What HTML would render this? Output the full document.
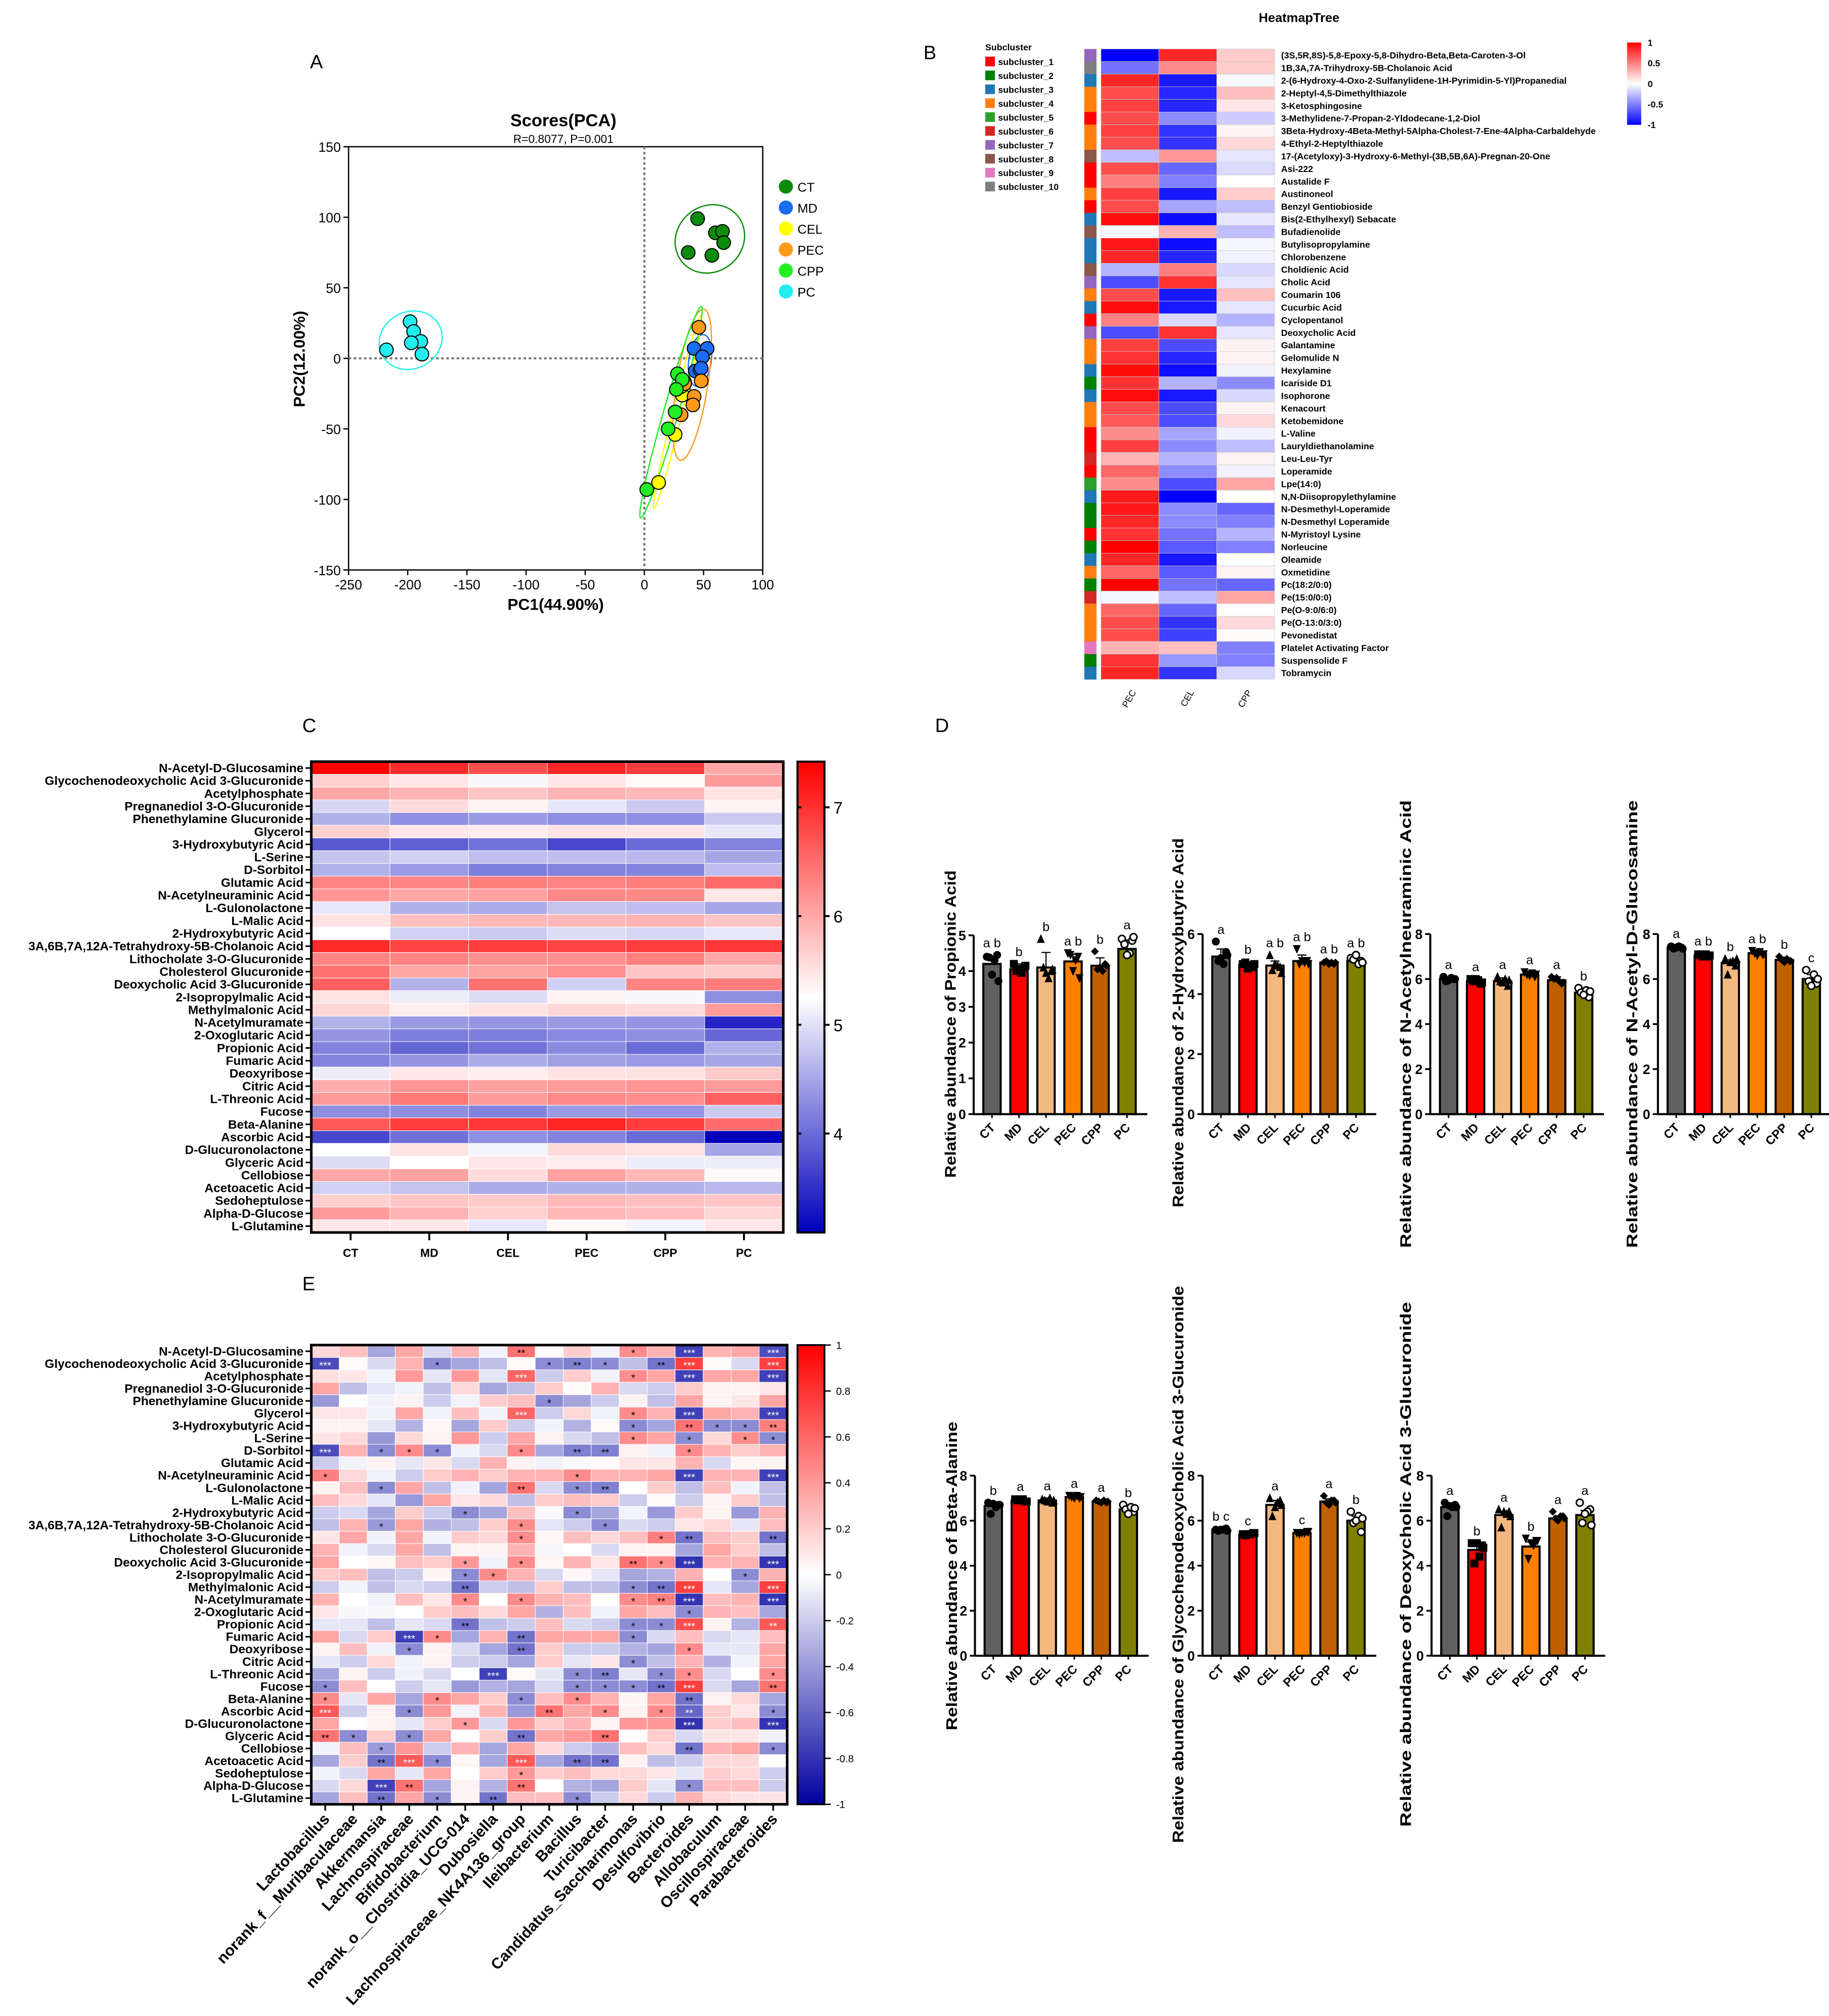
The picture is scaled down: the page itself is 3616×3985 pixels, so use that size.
<!DOCTYPE html>
<html><head><meta charset="utf-8"><title>Figure</title>
<style>
html,body{margin:0;padding:0;background:#fff;}
svg{display:block;font-family:"Liberation Sans",Arial,sans-serif;}
</style></head>
<body>
<svg id="fig" xmlns="http://www.w3.org/2000/svg" viewBox="0 0 1422 1567" width="3616" height="3985">
<rect x="0" y="0" width="1422" height="1567" fill="#fff"/>
<text x="241" y="53" font-size="15">A</text>
<text x="718" y="46" font-size="15">B</text>
<text x="235" y="569" font-size="15">C</text>
<text x="727" y="569" font-size="15">D</text>
<text x="235" y="1003" font-size="15">E</text>
<text x="438" y="98" font-size="13.5" font-weight="bold" text-anchor="middle">Scores(PCA)</text>
<text x="438" y="111" font-size="9" text-anchor="middle">R=0.8077, P=0.001</text>
<text x="432" y="474" font-size="12.5" font-weight="bold" text-anchor="middle">PC1(44.90%)</text>
<text transform="translate(237,279) rotate(-90)" font-size="12.5" font-weight="bold" text-anchor="middle">PC2(12.00%)</text>
<text x="1010" y="17" font-size="10" font-weight="bold" text-anchor="middle">HeatmapTree</text>
<text x="766" y="39" font-size="7" font-weight="bold">Subcluster</text>
</svg>
<script>
// ---------- DATA ----------
const pcaGroups=['CT','MD','CEL','PEC','CPP','PC'];
const pc1Values=[[45,60,66,67,37,57],[42,53,49,43,47,48],[33,32,26,12,31,34],[46,34,48,42,41,31],[28,32,27,26,20,2],[-198,-195,-189,-197,-188,-218]];
const pc2Values=[[99,89,90,82,75,73],[7,7,1,-9,-8,-7],[-23,-26,-54,-88,-20,-17],[22,-18,-16,-27,-33,-40],[-11,-15,-22,-38,-50,-93],[26,19,12,11,3,6]];
const pcaXTicks=[-250,-200,-150,-100,-50,0,50,100];
const pcaYTicks=[-150,-100,-50,0,50,100,150];

const bRowNames=['(3S,5R,8S)-5,8-Epoxy-5,8-Dihydro-Beta,Beta-Caroten-3-Ol','1B,3A,7A-Trihydroxy-5B-Cholanoic Acid','2-(6-Hydroxy-4-Oxo-2-Sulfanylidene-1H-Pyrimidin-5-Yl)Propanedial','2-Heptyl-4,5-Dimethylthiazole','3-Ketosphingosine','3-Methylidene-7-Propan-2-Yldodecane-1,2-Diol','3Beta-Hydroxy-4Beta-Methyl-5Alpha-Cholest-7-Ene-4Alpha-Carbaldehyde','4-Ethyl-2-Heptylthiazole','17-(Acetyloxy)-3-Hydroxy-6-Methyl-(3B,5B,6A)-Pregnan-20-One','Asi-222','Austalide F','Austinoneol','Benzyl Gentiobioside','Bis(2-Ethylhexyl) Sebacate','Bufadienolide','Butylisopropylamine','Chlorobenzene','Choldienic Acid','Cholic Acid','Coumarin 106','Cucurbic Acid','Cyclopentanol','Deoxycholic Acid','Galantamine','Gelomulide N','Hexylamine','Icariside D1','Isophorone','Kenacourt','Ketobemidone','L-Valine','Lauryldiethanolamine','Leu-Leu-Tyr','Loperamide','Lpe(14:0)','N,N-Diisopropylethylamine','N-Desmethyl-Loperamide','N-Desmethyl Loperamide','N-Myristoyl Lysine','Norleucine','Oleamide','Oxmetidine','Pc(18:2/0:0)','Pe(15:0/0:0)','Pe(O-9:0/6:0)','Pe(O-13:0/3:0)','Pevonedistat','Platelet Activating Factor','Suspensolide F','Tobramycin'];
const bCols=['PEC','CEL','CPP'];
const bPEC=[-1,-0.55,0.85,0.7,0.75,0.7,0.75,0.7,-0.25,0.7,0.5,0.75,0.7,0.95,-0.03,0.9,0.85,-0.3,-0.7,0.7,0.95,0.5,-0.7,0.75,0.8,0.95,0.8,0.95,0.7,0.65,0.45,0.75,0.3,0.6,0.45,0.9,0.9,0.85,0.8,1.0,0.85,0.6,1.0,-0.03,0.6,0.7,0.7,0.3,0.8,0.85];
const bCEL=[0.85,0.45,-0.9,-0.85,-0.85,-0.45,-0.8,-0.8,0.4,-0.6,-0.5,-0.9,-0.35,-0.95,0.3,-0.95,-0.85,0.5,0.8,-0.9,-0.9,-0.15,0.8,-0.7,-0.85,-0.95,-0.3,-0.9,-0.7,-0.7,-0.35,-0.45,-0.3,-0.45,-0.7,-1,-0.45,-0.45,-0.55,-0.65,-0.9,-0.65,-0.55,-0.25,-0.6,-0.8,-0.75,0.25,-0.4,-0.8];
const bCPP=[0.2,0.2,-0.03,0.25,0.1,-0.2,0.05,0.15,-0.1,-0.15,0.0,0.2,-0.25,-0.1,-0.25,-0.03,-0.05,-0.15,-0.1,0.25,-0.1,-0.3,-0.1,0.05,0.05,-0.05,-0.45,-0.15,0.05,0.15,-0.05,-0.25,0.05,-0.05,0.35,0.0,-0.6,-0.5,-0.3,-0.5,0.0,0.05,-0.6,0.35,0.0,0.15,0.02,-0.5,-0.5,-0.15];
const bCluster=[7,10,3,4,4,1,4,4,8,1,1,4,1,3,8,3,3,8,7,4,3,1,7,4,4,3,2,3,4,4,1,1,6,1,5,3,2,2,1,2,3,4,2,6,4,4,4,9,2,3];
const bClusterNames=['subcluster_1','subcluster_2','subcluster_3','subcluster_4','subcluster_5','subcluster_6','subcluster_7','subcluster_8','subcluster_9','subcluster_10'];
const bTicks=[1,0.5,0,-0.5,-1];

const cGroups=['CT','MD','CEL','PEC','CPP','PC'];
const metNames=['N-Acetyl-D-Glucosamine','Glycochenodeoxycholic Acid 3-Glucuronide','Acetylphosphate','Pregnanediol 3-O-Glucuronide','Phenethylamine Glucuronide','Glycerol','3-Hydroxybutyric Acid','L-Serine','D-Sorbitol','Glutamic Acid','N-Acetylneuraminic Acid','L-Gulonolactone','L-Malic Acid','2-Hydroxybutyric Acid','3A,6B,7A,12A-Tetrahydroxy-5B-Cholanoic Acid','Lithocholate 3-O-Glucuronide','Cholesterol Glucuronide','Deoxycholic Acid 3-Glucuronide','2-Isopropylmalic Acid','Methylmalonic Acid','N-Acetylmuramate','2-Oxoglutaric Acid','Propionic Acid','Fumaric Acid','Deoxyribose','Citric Acid','L-Threonic Acid','Fucose','Beta-Alanine','Ascorbic Acid','D-Glucuronolactone','Glyceric Acid','Cellobiose','Acetoacetic Acid','Sedoheptulose','Alpha-D-Glucose','L-Glutamine'];
const cValues=[
[7.4,7.05,6.75,7.1,6.9,6.0],[5.65,5.45,5.2,5.45,5.3,6.1],[6.0,5.9,5.75,5.9,5.85,5.5],[4.9,5.55,5.35,5.05,4.8,5.35],
[4.6,4.3,4.4,4.3,4.3,4.8],[5.65,5.45,5.4,5.5,5.45,5.05],[3.85,3.9,4.05,3.7,4.0,4.2],[4.75,4.85,4.7,4.7,4.65,4.5],
[4.6,4.4,4.15,4.2,4.2,4.7],[6.3,6.3,6.35,6.3,6.35,6.5],[6.15,6.0,6.05,6.25,6.25,5.45],[5.05,4.6,4.55,4.75,4.7,4.5],
[5.5,5.8,5.85,5.85,5.9,5.75],[5.25,4.85,4.8,4.95,4.9,5.05],[7.05,6.85,6.9,6.85,6.9,6.95],[6.3,6.3,6.2,6.2,6.35,6.0],
[6.45,6.0,6.05,6.2,5.75,5.7],[6.6,4.6,6.45,4.85,6.3,6.35],[5.5,5.1,4.95,5.35,5.2,4.3],[5.6,5.4,5.5,5.6,5.55,6.1],
[4.6,4.4,4.35,4.4,4.35,3.4],[4.35,4.15,4.15,4.25,4.3,3.95],[4.2,3.95,4.05,4.25,4.0,4.6],[4.2,4.35,4.55,4.45,4.4,4.5],
[5.1,5.45,5.4,5.5,5.5,5.7],[5.95,6.15,6.05,6.1,6.15,6.1],[6.1,6.4,6.1,6.25,6.2,6.6],[4.3,4.3,4.2,4.4,4.35,4.8],
[6.65,6.9,6.95,7.1,6.9,6.5],[3.7,4.05,4.3,4.2,4.0,3.1],[5.25,5.5,5.15,5.55,5.5,4.5],[4.95,5.25,5.45,5.4,5.1,5.1],
[6.0,6.05,5.55,6.05,5.85,5.3],[4.85,4.75,4.55,4.6,4.6,4.65],[5.65,5.75,5.7,5.85,5.8,5.75],[6.1,5.9,5.65,5.85,5.8,5.6],
[5.45,5.45,5.05,5.3,5.15,5.45]];
const cTicks=[7,6,5,4];

const eTaxa=['Lactobacillus','norank_f__Muribaculaceae','Akkermansia','Lachnospiraceae','Bifidobacterium','norank_o__Clostridia_UCG-014','Dubosiella','Lachnospiraceae_NK4A136_group','Ileibacterium','Bacillus','Turicibacter','Candidatus_Saccharimonas','Desulfovibrio','Bacteroides','Allobaculum','Oscillospiraceae','Parabacteroides'];
const eValues=[
[0.15,0.25,-0.35,0.35,-0.15,0.3,-0.05,0.55,0.02,0.2,-0.05,0.45,0.3,-0.75,0.3,0.35,-0.7],
[-0.7,0.02,-0.15,0.3,-0.45,-0.35,-0.25,0.02,-0.45,-0.5,-0.45,-0.25,-0.55,0.75,0.02,-0.15,0.75],
[0.12,0.1,-0.05,0.4,-0.1,0.4,-0.1,0.6,-0.2,0.2,-0.05,0.45,0.35,-0.75,0.35,0.35,-0.75],
[0.35,-0.25,-0.1,-0.05,-0.25,0.15,-0.35,-0.25,0.2,0.02,0.3,-0.15,-0.2,0.2,0.05,0.05,0.1],
[-0.4,0,-0.05,0.05,-0.2,-0.05,0.2,0.25,-0.45,-0.35,-0.2,0.05,-0.25,0.35,0.05,0.1,0.35],
[0.1,0.1,-0.05,0.35,-0.05,0.25,-0.05,0.6,-0.2,0.15,-0.05,0.45,0.3,-0.75,0.35,0.3,-0.75],
[0.05,0.05,-0.1,-0.3,0.03,-0.35,0.2,-0.2,-0.05,-0.3,0.02,-0.45,-0.35,0.55,-0.45,-0.45,0.5],
[0.1,0.15,-0.4,0.15,0.05,0.4,-0.2,0.35,0.05,-0.15,-0.25,0.45,0.35,-0.45,0.15,0.45,-0.45],
[-0.7,0.3,-0.45,0.45,-0.45,-0.05,-0.15,0.45,-0.35,-0.5,-0.5,0.05,-0.05,0.45,0.3,0.2,0.3],
[-0.2,-0.05,0.05,-0.1,0.1,-0.15,0.3,0.05,-0.05,-0.02,0.02,0.1,0.1,0.3,-0.15,0.03,0.05],
[0.5,0.15,-0.05,-0.2,0.2,0.3,0.2,0.3,0.3,0.45,0.3,0.3,0.35,-0.75,0.3,0.3,-0.75],
[0.05,0.25,-0.45,0.35,-0.25,-0.05,-0.35,0.55,-0.15,-0.45,-0.5,0.0,0.2,-0.25,0.25,-0.05,-0.25],
[0.25,0.15,-0.1,-0.4,0.35,0.1,0.15,-0.25,0.2,0.25,0.2,-0.2,0.02,-0.2,0.05,0.2,-0.25],
[-0.2,-0.15,-0.35,0.2,-0.2,-0.45,-0.35,0.25,-0.02,-0.45,-0.35,-0.05,-0.4,0.2,0.05,-0.4,0.3],
[-0.25,0.3,-0.4,0.35,-0.3,-0.25,0.2,0.45,-0.1,-0.2,-0.45,-0.15,-0.2,0.1,0.15,-0.1,0.25],
[0.1,0.35,-0.05,0.35,-0.05,0.2,0.15,0.45,0.03,0.25,0.15,0.25,0.5,-0.55,0.25,0.2,-0.55],
[0.3,-0.05,-0.15,0.35,-0.25,0.05,0.05,0.3,-0.03,0.0,-0.15,0.05,0.05,-0.35,0.35,0.2,-0.25],
[0.35,0.0,0.03,0.25,0.2,0.4,-0.05,0.45,0.03,0.3,0.1,0.55,0.45,-0.8,0.3,0.3,-0.8],
[0.2,0.25,-0.25,-0.2,0.03,-0.45,0.45,0.3,-0.15,0.03,-0.1,-0.35,-0.3,0.3,0.0,-0.45,0.3],
[-0.2,-0.05,-0.25,-0.15,-0.2,-0.55,-0.2,-0.25,0.2,-0.25,-0.25,-0.45,-0.55,0.75,-0.1,-0.35,0.75],
[0.3,0.0,-0.05,0.25,0.1,0.45,0.0,0.45,0.3,0.25,0.0,0.45,0.5,-0.8,0.25,0.3,-0.8],
[0.1,-0.03,-0.03,0.0,0.2,0.25,0.15,0.35,-0.3,0.25,-0.05,0.35,0.25,-0.45,0.3,0.25,-0.35],
[-0.1,-0.1,-0.25,-0.1,-0.15,-0.55,-0.25,-0.2,0.25,-0.15,-0.2,-0.45,-0.45,0.7,0.05,-0.3,0.65],
[0.35,-0.15,0.2,-0.75,0.45,-0.35,0.3,-0.55,0.35,0.35,0.35,-0.45,-0.15,0.25,-0.15,-0.1,0.25],
[0.05,0.25,-0.05,-0.45,0.05,-0.15,-0.35,-0.55,0.2,-0.2,-0.2,-0.3,-0.35,0.45,-0.1,-0.1,0.35],
[-0.1,-0.2,0.15,-0.05,0.05,-0.2,-0.2,-0.35,0.2,-0.1,0.1,-0.45,-0.25,0.3,-0.3,-0.05,0.35],
[-0.35,0.05,-0.2,-0.05,-0.15,0.0,-0.75,0.02,-0.1,-0.45,-0.5,-0.1,-0.45,0.45,-0.15,0.0,0.45],
[-0.45,0.25,0.0,-0.2,-0.1,-0.4,-0.3,-0.35,-0.15,-0.45,-0.45,-0.45,-0.55,0.75,-0.15,-0.35,0.55],
[0.45,-0.1,0.35,-0.35,0.45,0.35,0.2,-0.45,0.25,0.45,0.3,0.03,0.35,-0.55,0.05,0.15,-0.35],
[0.65,-0.2,0.05,-0.45,0.4,-0.05,0.3,-0.4,0.55,0.35,0.45,0.05,0.45,-0.6,0.2,0.1,-0.45],
[0.35,0.0,0.05,-0.1,0.2,0.4,-0.15,0.4,0.2,0.3,0.05,0.4,0.4,-0.8,0.2,0.25,-0.8],
[0.55,-0.45,0.2,-0.45,0.35,0.0,0.2,-0.55,0.35,0.4,0.55,0.0,0.2,-0.15,0.1,0.1,-0.05],
[-0.05,0.25,-0.4,0.4,-0.2,0.3,-0.35,0.35,0.15,-0.2,-0.3,0.25,0.15,-0.55,0.3,0.35,-0.45],
[-0.35,0.2,-0.55,0.65,-0.45,0.03,-0.35,0.65,-0.35,-0.55,-0.55,0.05,-0.25,-0.2,0.15,0.15,0.0],
[-0.05,-0.15,0.35,-0.1,0.35,0.0,0.2,0.4,0.2,0.25,0.15,0.15,0.1,-0.1,0.2,0.15,-0.2],
[-0.15,0.15,-0.75,0.55,-0.35,0.05,-0.3,0.55,0.0,-0.3,-0.35,0.2,-0.1,-0.45,0.25,0.25,-0.2],
[-0.35,0.25,-0.55,0.35,-0.45,0.05,-0.55,0.25,0.25,-0.45,-0.2,0.15,-0.2,0.3,0.15,0.1,0.1]];
const eStars=['.......2...1.3..3','3...1...121.23..3','.......3...1.3..3','.................','........1........','.......3...1.3..3','...........1.2112','...........1.1.11','3.111..1.22..1...','.................','1........1...3..3','..1....2.12......','.................','.....1...1.......','..1....1..1......','.......1....12..2','.................','.....1.1...213..3','.....11........1.','.....2.....123..3','.....1.1...123..3','.............1...','.....2.....113..2','...31..2...1.....','...1...2.....1...','...........1.....','......3..12.11..1','1........11123..2','1...1..1.1...2...','3..1....2.1.12..1','.....1.......3..3','21.1...2..2......','..1..........2..1','..231..3.22......','.......1.........','..32...2.....1...','..2.1.2..1.......'];
const eTicks=[1,0.8,0.6,0.4,0.2,0,-0.2,-0.4,-0.6,-0.8,-1];

const barGroups=['CT','MD','CEL','PEC','CPP','PC'];
const meansPropionic=[4.2,4.05,4.1,4.27,4.15,4.62];
const errPropionic=[0.2,0.15,0.42,0.2,0.22,0.25];
const lettersPropionic=['a b','b','b','a b','b','a'];
const ptsPropionic=[[4.4,4.45,4.38,4.3,3.9,3.72],[4.2,4.1,4.0,3.95,4.05,4.15],[4.9,4.0,4.1,3.8,3.95,4.05],[4.5,4.4,4.45,4.3,4.0,3.8],[4.55,4.2,4.05,4.0,4.1,4.15],[4.9,4.85,4.75,4.5,4.45,4.95]];
const meansHydroxybutyric=[5.25,4.98,4.95,5.1,5.05,5.1];
const errHydroxybutyric=[0.25,0.1,0.15,0.2,0.05,0.1];
const lettersHydroxybutyric=['a','b','a b','a b','a b','a b'];
const ptsHydroxybutyric=[[5.75,5.4,5.1,5.0,5.2,5.3],[5.0,4.9,5.05,4.95,4.85,5.0],[5.3,4.9,4.8,4.95,5.0,4.7],[5.5,5.1,5.0,5.05,5.1,5.0],[5.05,5.0,5.1,5.05,5.0,5.05],[5.2,5.1,5.15,5.0,5.3,5.05]];
const meansNeuraminic=[6.0,5.9,5.9,6.2,5.95,5.4];
const errNeuraminic=[0.1,0.1,0.15,0.12,0.15,0.15];
const lettersNeuraminic=['a','a','a','a','a','b'];
const ptsNeuraminic=[[6.1,6.0,5.9,6.05,5.95,6.0],[6.0,5.8,5.9,5.95,6.0,5.85],[6.1,5.7,5.9,6.0,5.85,5.95],[6.3,6.1,6.2,6.25,6.15,6.2],[6.1,5.8,6.0,5.9,6.05,5.85],[5.6,5.2,5.4,5.5,5.3,5.45]];
const meansGlucosamine=[7.4,7.05,6.7,7.15,6.85,6.0];
const errGlucosamine=[0.08,0.1,0.15,0.1,0.12,0.2];
const lettersGlucosamine=['a','a b','b','a b','b','c'];
const ptsGlucosamine=[[7.45,7.4,7.35,7.45,7.4,7.35],[7.1,7.0,7.05,7.1,7.0,7.05],[6.9,6.6,6.2,6.8,6.75,6.9],[7.25,7.1,7.15,7.2,7.05,7.1],[7.0,6.8,6.85,6.9,6.75,6.8],[6.4,5.8,5.9,6.2,5.7,6.0]];
const meansBetaAlanine=[6.65,6.9,6.9,7.05,6.85,6.5];
const errBetaAlanine=[0.12,0.08,0.1,0.06,0.08,0.1];
const lettersBetaAlanine=['b','a','a','a','a','b'];
const ptsBetaAlanine=[[6.8,6.7,6.3,6.6,6.75,6.7],[6.95,6.85,6.9,6.95,6.9,6.85],[6.95,6.8,6.9,7.0,6.85,6.9],[7.1,7.0,7.05,7.1,7.0,7.05],[6.9,6.8,6.85,6.9,6.8,6.85],[6.7,6.4,6.5,6.6,6.3,6.55]];
const meansGlycocheno=[5.6,5.4,6.7,5.45,6.85,6.0];
const errGlycocheno=[0.05,0.05,0.2,0.05,0.12,0.2];
const lettersGlycocheno=['b c','c','a','c','a','b'];
const ptsGlycocheno=[[5.6,5.65,5.55,5.6,5.6,5.55],[5.4,5.45,5.35,5.4,5.4,5.45],[7.0,6.9,6.2,6.8,6.6,6.7],[5.45,5.5,5.4,5.45,5.45,5.5],[7.1,6.9,6.8,6.9,6.7,6.8],[6.4,5.5,5.9,6.2,6.0,6.1]];
const meansDeoxycholic=[6.6,4.7,6.25,4.85,6.1,6.25];
const errDeoxycholic=[0.1,0.2,0.15,0.2,0.1,0.2];
const lettersDeoxycholic=['a','b','a','b','a','a'];
const ptsDeoxycholic=[[6.8,6.7,6.2,6.6,6.65,6.6],[5.0,4.9,4.1,4.4,5.0,4.8],[6.5,6.4,5.7,6.3,6.4,6.2],[5.2,5.1,4.3,4.9,5.0,5.1],[6.4,6.2,6.1,6.2,6.0,6.1],[6.8,6.5,5.9,6.4,6.3,5.8]];

// ---------- HELPERS ----------
const NS='http://www.w3.org/2000/svg';
const svg=document.getElementById('fig');
function mk(tag,attrs,parent){const e=document.createElementNS(NS,tag);for(const k in attrs)e.setAttribute(k,attrs[k]);(parent||svg).appendChild(e);return e;}
function tx(str,attrs,parent){const e=mk('text',attrs,parent);e.textContent=str;return e;}
function line(x1,y1,x2,y2,w,parent,col){return mk('line',{x1:x1,y1:y1,x2:x2,y2:y2,stroke:col||'#000','stroke-width':w},parent);}

// ---------- PANEL A: PCA ----------
const gA=mk('g',{});


const ax0=271,ax1=593,ay0=114,ay1=443;
const sx=v=>ax0+(v+250)*(ax1-ax0)/350;
const sy=v=>ay0+(150-v)*(ay1-ay0)/300;
const pcaColors=['#0a8c0a','#1a6cf0','#ffff00','#ff9a1a','#22ee22','#22eeee'];
let e;
e=mk('rect',{x:ax0,y:ay0,width:ax1-ax0,height:ay1-ay0,fill:'none',stroke:'#000','stroke-width':1},gA);


e=line(sx(0),ay0,sx(0),ay1,1.6,gA,'#777');e.setAttribute('stroke-dasharray','2,2');


e=line(ax0,sy(0),ax1,sy(0),1.6,gA,'#777');e.setAttribute('stroke-dasharray','2,2');


pcaXTicks.forEach(t=>{
  e=line(sx(t),ay1,sx(t),ay1+4,1,gA);
  
  
  e=tx(String(t),{x:sx(t),y:ay1+15,'font-size':10.5,'text-anchor':'middle'},gA);
  
  
});
pcaYTicks.forEach(t=>{
  e=line(ax0-4,sy(t),ax0,sy(t),1,gA);
  
  
  e=tx(String(t),{x:ax0-6,y:sy(t)+4,'font-size':10.5,'text-anchor':'end'},gA);
  
  
});
pcaGroups.forEach((g,gi)=>{
  const xs=pc1Values[gi].map(sx),ys=pc2Values[gi].map(sy),n=xs.length;
  const mx=xs.reduce((a,b)=>a+b)/n,my=ys.reduce((a,b)=>a+b)/n;
  let sxx=0,syy=0,sxy=0;
  for(let i=0;i<n;i++){sxx+=(xs[i]-mx)**2;syy+=(ys[i]-my)**2;sxy+=(xs[i]-mx)*(ys[i]-my);}
  sxx/=n-1;syy/=n-1;sxy/=n-1;
  const tr=(sxx+syy)/2,dt=Math.sqrt(((sxx-syy)/2)**2+sxy*sxy);
  const l1=tr+dt,l2=Math.max(tr-dt,1);
  const ang=Math.atan2(l1-sxx,sxy||1e-9)*180/Math.PI;
  const k=2.45;
  e=mk('ellipse',{cx:mx,cy:my,rx:k*Math.sqrt(l1),ry:k*Math.sqrt(l2),transform:'rotate('+ang+' '+mx+' '+my+')',fill:'none',stroke:pcaColors[gi],'stroke-width':1},gA);
  
  
});
pcaGroups.forEach((g,gi)=>{
  pc1Values[gi].forEach((v,i)=>{
    e=mk('circle',{cx:sx(v),cy:sy(pc2Values[gi][i]),r:5.3,fill:pcaColors[gi],stroke:'#000','stroke-width':0.8},gA);
    
    
  });
  e=mk('circle',{cx:611,cy:145+gi*16.3,r:5.5,fill:pcaColors[gi]},gA);
  
  
  e=tx(g,{x:620,y:149+gi*16.3,'font-size':10},gA);
  
  
});

// ---------- PANEL B: HeatmapTree ----------
const gB=mk('g',{});


const clusterColors=['#ff0000','#008000','#1f77b4','#ff7f0e','#2ca02c','#d62728','#9467bd','#8c564b','#e377c2','#7f7f7f'];
function colB(v){v=Math.max(-1,Math.min(1,v));if(v>=0){const c=Math.round(255*(1-v));return 'rgb(255,'+c+','+c+')';}const c=Math.round(255*(1+v));return 'rgb('+c+','+c+',255)';}
const bx0=856,bcw=45,by0=38,brh=(528-38)/50;
bRowNames.forEach((nm,i)=>{
  const y=by0+i*brh;
  e=mk('rect',{x:843,y:y,width:9.5,height:brh+0.2,fill:clusterColors[bCluster[i]-1]},gB);
  
  
  [bPEC,bCEL,bCPP].forEach((arr,j)=>{
    e=mk('rect',{x:bx0+j*bcw,y:y,width:bcw,height:brh,fill:colB(arr[i]),stroke:'#c8c8c8','stroke-width':0.3},gB);
    
    
  });
  e=tx(nm,{x:996,y:y+brh/2+2.5,'font-size':7,'font-weight':'bold'},gB);
  
  
});
bCols.forEach((c,j)=>{
  e=tx(c,{transform:'translate('+(bx0+j*bcw+bcw/2+5)+',538) rotate(-60)','font-size':7,'text-anchor':'end'},gB);
  
  
});
bClusterNames.forEach((c,i)=>{
  e=mk('rect',{x:766,y:44+i*10.8,width:7.5,height:7.5,fill:clusterColors[i]},gB);
  
  
  e=tx(c,{x:776,y:50.5+i*10.8,'font-size':7,'font-weight':'bold'},gB);
  
  
});
const defs=mk('defs',{});
const grB=mk('linearGradient',{id:'gradB',x1:0,y1:0,x2:0,y2:1},defs);
[1,0.5,0,-0.5,-1].forEach((v,i)=>mk('stop',{offset:(i*25)+'%','stop-color':colB(v)},grB));
e=mk('rect',{x:1265,y:33,width:11,height:64,fill:'url(#gradB)'},gB);


bTicks.forEach(t=>{
  const y=33+(1-t)/2*64;
  e=tx(String(t),{x:1281,y:y+2.5,'font-size':7,'font-weight':'bold'},gB);
  
  
});

// ---------- PANEL C ----------
const gC=mk('g',{});


const cMin=3.09,cMax=7.42,cMid=5.25;
function colC(v){if(v>=cMid){const f=Math.min(1,(v-cMid)/(cMax-cMid));const c=Math.round(255*(1-f));return 'rgb(255,'+c+','+c+')';}const f=Math.min(1,(cMid-v)/(cMid-cMin));const c=Math.round(255*(1-f));return 'rgb('+c+','+c+','+Math.round(255-68*f)+')';}
const cx0=242,cx1=609,cy0=592,cy1=958,ccw=(cx1-cx0)/6,crh=(cy1-cy0)/37;
metNames.forEach((nm,i)=>{
  const y=cy0+i*crh;
  cValues[i].forEach((v,j)=>{
    e=mk('rect',{x:cx0+j*ccw,y:y,width:ccw,height:crh,fill:colC(v),stroke:'#fff','stroke-width':0.4},gC);
    
    
  });
  e=line(237.5,y+crh/2,242,y+crh/2,1.2,gC);
  
  
  e=tx(nm,{x:236,y:y+crh/2+3.3,'font-size':9.6,'font-weight':'bold','text-anchor':'end'},gC);
  
  
});
e=mk('rect',{x:cx0,y:cy0,width:cx1-cx0,height:cy1-cy0,fill:'none',stroke:'#000','stroke-width':2},gC);


cGroups.forEach((g,j)=>{
  const x=cx0+j*ccw+ccw/2;
  e=line(x,cy1,x,cy1+6,1.5,gC);
  
  
  e=tx(g,{x:x,y:977,'font-size':9,'font-weight':'bold','text-anchor':'middle'},gC);
  
  
});
const grC=mk('linearGradient',{id:'gradC',x1:0,y1:0,x2:0,y2:1},defs);
for(let i=0;i<=10;i++){const v=cMax-(cMax-cMin)*i/10;mk('stop',{offset:(i*10)+'%','stop-color':colC(v)},grC);}
e=mk('rect',{x:620,y:cy0,width:21,height:cy1-cy0,fill:'url(#gradC)',stroke:'#000','stroke-width':1.6},gC);


cTicks.forEach(t=>{
  const y=cy0+(cMax-t)/(cMax-cMin)*(cy1-cy0);
  e=line(620,y,623,y,1.5,gC);
  
  
  e=line(641,y,645,y,1.5,gC);
  
  
  e=tx(String(t),{x:648,y:y+5,'font-size':13},gC);
  
  
});

// ---------- PANEL E ----------
const gE=mk('g',{});


function colE(v){v=Math.max(-1,Math.min(1,v));if(v>=0){const c=Math.round(255*(1-v));return 'rgb(255,'+c+','+c+')';}const f=-v;const c=Math.round(255*(1-f));return 'rgb('+c+','+c+','+Math.round(255-95*f)+')';}
const ex0=242,ex1=612,ey0=1045.5,ey1=1402.5,ecw=(ex1-ex0)/17,erh=(ey1-ey0)/37;
metNames.forEach((nm,i)=>{
  const y=ey0+i*erh;
  eValues[i].forEach((v,j)=>{
    e=mk('rect',{x:ex0+j*ecw,y:y,width:ecw,height:erh,fill:colE(v),stroke:'#fff','stroke-width':0.4},gE);
    
    
    const s=eStars[i][j];
    if(s!=='.'){
      e=tx('*'.repeat(+s),{x:ex0+j*ecw+ecw/2,y:y+erh/2+4.2,'font-size':8,'text-anchor':'middle',fill:Math.abs(v)>=0.6?'#fff':'#000'},gE);
      
      
    }
  });
  e=line(237.5,y+erh/2,242,y+erh/2,1.2,gE);
  
  
  e=tx(nm,{x:236,y:y+erh/2+3.3,'font-size':9.6,'font-weight':'bold','text-anchor':'end'},gE);
  
  
});
e=mk('rect',{x:ex0,y:ey0,width:ex1-ex0,height:ey1-ey0,fill:'none',stroke:'#000','stroke-width':2},gE);


eTaxa.forEach((t,j)=>{
  const x=ex0+j*ecw+ecw/2;
  e=line(x,ey1,x,ey1+5,1.3,gE);
  
  
  e=tx(t,{transform:'translate('+(x+4)+','+(ey1+12)+') rotate(-47)','font-size':12,'font-weight':'bold','text-anchor':'end'},gE);
  
  
});
const grE=mk('linearGradient',{id:'gradE',x1:0,y1:0,x2:0,y2:1},defs);
for(let i=0;i<=10;i++){const v=1-i*0.2;mk('stop',{offset:(i*10)+'%','stop-color':colE(v)},grE);}
e=mk('rect',{x:620,y:ey0,width:21,height:ey1-ey0,fill:'url(#gradE)',stroke:'#000','stroke-width':1.4},gE);


eTicks.forEach(t=>{
  const y=ey0+(1-t)/2*(ey1-ey0);
  e=line(641,y,646,y,1,gE);
  
  
  e=tx(t===0?'0':String(t),{x:650,y:y+3,'font-size':8},gE);
  
  
});

// ---------- PANEL D: bar charts ----------
const barColors=['#606060','#ff0000','#f2b880','#ff8000','#c06000','#808000'];
const charts=[
 {id:'propionic',title:'Relative abundance of Propionic Acid',ax:757,top:727,base:866,ymax:5,step:1,lab:[739,796,239],m:meansPropionic,er:errPropionic,l:lettersPropionic,p:ptsPropionic},
 {id:'hydroxybutyric',title:'Relative abundance of 2-Hydroxybutyric Acid',ax:935,top:726,base:866,ymax:6,step:2,lab:[916,795,287],m:meansHydroxybutyric,er:errHydroxybutyric,l:lettersHydroxybutyric,p:ptsHydroxybutyric},
 {id:'neuraminic',title:'Relative abundance of N-Acetylneuraminic Acid',ax:1112,top:726,base:866,ymax:8,step:2,lab:[1093,796,348],m:meansNeuraminic,er:errNeuraminic,l:lettersNeuraminic,p:ptsNeuraminic},
 {id:'glucosamine',title:'Relative abundance of N-Acetyl-D-Glucosamine',ax:1289,top:726,base:866,ymax:8,step:2,lab:[1269,796,348],m:meansGlucosamine,er:errGlucosamine,l:lettersGlucosamine,p:ptsGlucosamine},
 {id:'beta-alanine',title:'Relative abundance of Beta-Alanine',ax:758,top:1147,base:1287,ymax:8,step:2,lab:[740,1225,240],m:meansBetaAlanine,er:errBetaAlanine,l:lettersBetaAlanine,p:ptsBetaAlanine},
 {id:'glycocheno',title:'Relative abundance of Glycochenodeoxycholic Acid 3-Glucuronide',ax:935,top:1147,base:1287,ymax:8,step:2,lab:[916,1216,433],m:meansGlycocheno,er:errGlycocheno,l:lettersGlycocheno,p:ptsGlycocheno},
 {id:'deoxycholic',title:'Relative abundance of Deoxycholic Acid 3-Glucuronide',ax:1113,top:1147,base:1287,ymax:8,step:2,lab:[1093,1216,408],m:meansDeoxycholic,er:errDeoxycholic,l:lettersDeoxycholic,p:ptsDeoxycholic}
];
const jit=[-4,4,-2,2,0,5];
function marker(kind,x,y,parent){
  const r=3.1;let m;
  if(kind===0) m=mk('circle',{cx:x,cy:y,r:r,fill:'#000'},parent);
  else if(kind===1) m=mk('rect',{x:x-r,y:y-r,width:2*r,height:2*r,fill:'#000'},parent);
  else if(kind===2) m=mk('polygon',{points:(x)+','+(y-r-0.6)+' '+(x-r)+','+(y+r)+' '+(x+r)+','+(y+r),fill:'#000'},parent);
  else if(kind===3) m=mk('polygon',{points:(x)+','+(y+r+0.6)+' '+(x-r)+','+(y-r)+' '+(x+r)+','+(y-r),fill:'#000'},parent);
  else if(kind===4) m=mk('polygon',{points:x+','+(y-r)+' '+(x+r)+','+y+' '+x+','+(y+r)+' '+(x-r)+','+y,fill:'#000'},parent);
  else m=mk('circle',{cx:x,cy:y,r:r-0.4,fill:'#fff',stroke:'#000','stroke-width':1.2},parent);
  return m;
}
charts.forEach(c=>{
  const g=mk('g',{});
  
  
  const ys=v=>c.base-(v/c.ymax)*(c.base-c.top);
  const bx=i=>c.ax+7.5+i*21;
  barGroups.forEach((grp,i)=>{
    const x=bx(i),w=13.5;
    e=mk('rect',{x:x,y:ys(c.m[i]),width:w,height:c.base-ys(c.m[i]),fill:barColors[i],stroke:'#000','stroke-width':1.6},g);
    
    
    const cx=x+w/2,yt=ys(c.m[i]+c.er[i]);
    e=line(cx,ys(c.m[i]),cx,yt,0.9,g);
    
    
    e=line(cx-3.5,yt,cx+3.5,yt,0.9,g);
    
    
    c.p[i].forEach((v,k)=>{
      e=marker(i,cx+jit[k],ys(v),g);
      
      
    });
    const topV=Math.max(c.m[i]+c.er[i],Math.max.apply(null,c.p[i]));
    e=tx(c.l[i],{x:cx,y:ys(topV)-6,'font-size':10,'text-anchor':'middle'},g);
    
    
    e=line(cx,c.base,cx,c.base+3,1.2,g);
    
    
    e=tx(grp,{transform:'translate('+(cx+3)+','+(c.base+11)+') rotate(-45)','font-size':9.5,'font-weight':'bold','text-anchor':'end'},g);
    
    
  });
  e=line(c.ax,c.top,c.ax,c.base,1.6,g);
  
  
  e=line(c.ax,c.base,c.ax+135,c.base,1.6,g);
  
  
  for(let t=0;t<=c.ymax;t+=c.step){
    e=line(c.ax-4,ys(t),c.ax,ys(t),1.4,g);
    
    
    e=tx(String(t),{x:c.ax-6,y:ys(t)+3.8,'font-size':10.5,'font-weight':'bold','text-anchor':'end'},g);
    
    
  }
  e=tx(c.title,{transform:'translate('+(c.lab[0]+4)+','+c.lab[1]+') rotate(-90)','font-size':12,'font-weight':'bold','text-anchor':'middle',textLength:c.lab[2],lengthAdjust:'spacingAndGlyphs'},g);
  
  
});
</script>
</body></html>
